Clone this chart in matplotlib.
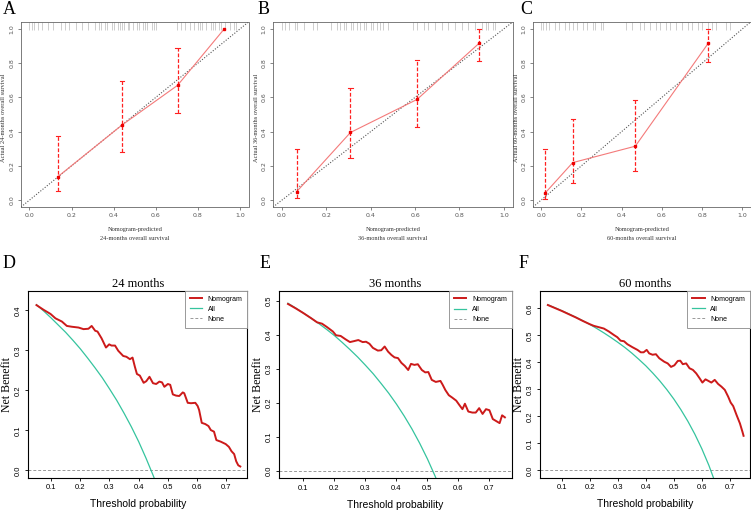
import numpy as np
import matplotlib
matplotlib.use("Agg")
import matplotlib.pyplot as plt
import matplotlib.transforms as mtransforms

# ---- calibration data (nomogram-predicted vs actual) ----
months = ["24", "36", "60"]
cal_pred = [[0.135, 0.440, 0.703, 0.925],
            [0.067, 0.309, 0.609, 0.888],
            [0.020, 0.157, 0.468, 0.831]]
cal_obs = [[0.137, 0.439, 0.670, 1.000],
           [0.050, 0.395, 0.588, 0.915],
           [0.041, 0.219, 0.315, 0.917]]
cal_lo = [[0.053, 0.279, 0.506, 1.000],
          [0.012, 0.244, 0.426, 0.811],
          [0.006, 0.100, 0.173, 0.809]]
cal_hi = [[0.377, 0.697, 0.887, 1.000],
          [0.298, 0.654, 0.820, 1.000],
          [0.297, 0.474, 0.583, 1.000]]
rug_a = [0.0, 0.01, 0.02, 0.04, 0.06, 0.09, 0.11, 0.15, 0.17, 0.19, 0.22, 0.25, 0.28, 0.31,
         0.33, 0.34, 0.36, 0.37, 0.39, 0.40, 0.42, 0.43, 0.44, 0.45, 0.47, 0.475, 0.49, 0.51,
         0.52, 0.54, 0.55, 0.56, 0.58, 0.59, 0.60, 0.70, 0.72, 0.74, 0.76, 0.78, 0.80, 0.81,
         0.82, 0.84, 0.86, 0.87, 0.88, 0.90, 0.91, 0.93, 0.95, 0.97, 0.98]
rug_b = [0.0, 0.015, 0.03, 0.06, 0.07, 0.10, 0.14, 0.16, 0.22, 0.25, 0.26, 0.28, 0.29, 0.31,
         0.32, 0.34, 0.35, 0.37, 0.38, 0.40, 0.41, 0.43, 0.44, 0.455, 0.48, 0.59, 0.61, 0.64,
         0.66, 0.69, 0.72, 0.75, 0.78, 0.81, 0.84, 0.87, 0.90, 0.92, 0.93, 0.95, 0.96]
rug_c = [0.0, 0.01, 0.025, 0.04, 0.07, 0.09, 0.12, 0.14, 0.16, 0.18, 0.21, 0.23, 0.26, 0.27,
         0.30, 0.31, 0.42, 0.45, 0.49, 0.51, 0.54, 0.57, 0.59, 0.62, 0.64, 0.67, 0.70, 0.73,
         0.75, 0.78, 0.80, 0.83, 0.85, 0.87, 0.92, 0.94]
rugs = [rug_a, rug_b, rug_c]

# ---- decision curve data ----
thr_all = [0.05, 0.075, 0.10, 0.125, 0.15, 0.175, 0.20, 0.225, 0.25, 0.275, 0.30, 0.325,
           0.35, 0.375, 0.40, 0.425, 0.45, 0.475, 0.50, 0.525, 0.55, 0.575, 0.60, 0.625, 0.65]
nb_all_24 = [0.414, 0.398, 0.381, 0.363, 0.345, 0.325, 0.304, 0.281, 0.257, 0.232, 0.204, 0.175,
             0.143, 0.109, 0.072, 0.031, -0.013, -0.061]
nb_all_36 = [0.493, 0.479, 0.464, 0.449, 0.433, 0.416, 0.398, 0.378, 0.357, 0.335, 0.311, 0.286,
             0.258, 0.229, 0.197, 0.162, 0.124, 0.082, 0.036, -0.015, -0.071]
nb_all_60 = [0.613, 0.602, 0.591, 0.579, 0.567, 0.554, 0.540, 0.525, 0.509, 0.492, 0.474, 0.455,
             0.434, 0.411, 0.387, 0.360, 0.331, 0.299, 0.264, 0.225, 0.182, 0.134, 0.080, 0.019, -0.051]

thr_24 = [0.05, 0.075, 0.098, 0.115, 0.137, 0.154, 0.171, 0.194, 0.211, 0.228, 0.239, 0.251,
          0.259, 0.273, 0.288, 0.299, 0.307, 0.319, 0.330, 0.347, 0.358, 0.370, 0.379, 0.387,
          0.394, 0.404, 0.417, 0.426, 0.437, 0.449, 0.460, 0.471, 0.480, 0.488, 0.500, 0.508,
          0.517, 0.528, 0.539, 0.551, 0.556, 0.568, 0.579, 0.594, 0.602, 0.607, 0.616, 0.628,
          0.639, 0.647, 0.658, 0.666, 0.681, 0.698, 0.709, 0.718, 0.727, 0.734, 0.741, 0.748]
nb_24 = [0.413, 0.401, 0.391, 0.380, 0.372, 0.361, 0.359, 0.357, 0.353, 0.354, 0.361, 0.349,
         0.347, 0.330, 0.307, 0.315, 0.312, 0.312, 0.299, 0.286, 0.284, 0.278, 0.282, 0.259,
         0.241, 0.237, 0.219, 0.223, 0.234, 0.218, 0.216, 0.222, 0.220, 0.209, 0.216, 0.214,
         0.190, 0.187, 0.186, 0.195, 0.193, 0.169, 0.168, 0.169, 0.161, 0.151, 0.119, 0.116,
         0.111, 0.101, 0.097, 0.076, 0.072, 0.066, 0.059, 0.048, 0.041, 0.023, 0.013, 0.010]

thr_36 = [0.05, 0.075, 0.10, 0.125, 0.144, 0.160, 0.176, 0.195, 0.205, 0.220, 0.236, 0.250,
          0.264, 0.277, 0.291, 0.302, 0.313, 0.324, 0.340, 0.351, 0.362, 0.373, 0.384, 0.394,
          0.405, 0.416, 0.427, 0.438, 0.447, 0.458, 0.469, 0.482, 0.493, 0.503, 0.514, 0.527,
          0.542, 0.549, 0.558, 0.569, 0.580, 0.593, 0.604, 0.613, 0.621, 0.632, 0.645, 0.656,
          0.667, 0.678, 0.689, 0.700, 0.711, 0.722, 0.733, 0.741, 0.750]
nb_36 = [0.491, 0.478, 0.464, 0.449, 0.437, 0.433, 0.423, 0.410, 0.399, 0.397, 0.387, 0.379,
         0.382, 0.385, 0.379, 0.380, 0.374, 0.362, 0.354, 0.355, 0.366, 0.351, 0.341, 0.334,
         0.332, 0.318, 0.309, 0.297, 0.315, 0.312, 0.314, 0.297, 0.290, 0.291, 0.268, 0.262,
         0.265, 0.254, 0.238, 0.223, 0.216, 0.207, 0.193, 0.182, 0.198, 0.175, 0.172, 0.172,
         0.185, 0.168, 0.182, 0.179, 0.153, 0.147, 0.141, 0.164, 0.158]

thr_60 = [0.05, 0.075, 0.10, 0.125, 0.15, 0.175, 0.20, 0.214, 0.232, 0.250, 0.268, 0.286,
          0.298, 0.310, 0.322, 0.334, 0.352, 0.370, 0.382, 0.392, 0.403, 0.412, 0.424, 0.436,
          0.448, 0.466, 0.478, 0.490, 0.502, 0.514, 0.523, 0.532, 0.544, 0.556, 0.568, 0.580,
          0.592, 0.602, 0.613, 0.622, 0.634, 0.646, 0.658, 0.670, 0.682, 0.694, 0.703, 0.712,
          0.724, 0.736, 0.745, 0.749]
nb_60 = [0.612, 0.601, 0.590, 0.578, 0.566, 0.553, 0.541, 0.535, 0.530, 0.525, 0.514, 0.501,
         0.493, 0.480, 0.478, 0.467, 0.456, 0.446, 0.437, 0.437, 0.446, 0.433, 0.428, 0.430,
         0.415, 0.402, 0.396, 0.383, 0.389, 0.405, 0.406, 0.393, 0.396, 0.378, 0.372, 0.359,
         0.341, 0.325, 0.337, 0.332, 0.325, 0.335, 0.320, 0.310, 0.298, 0.273, 0.251, 0.238,
         0.205, 0.174, 0.143, 0.128]

dca_thr = [thr_24, thr_36, thr_60]
dca_nb = [nb_24, nb_36, nb_60]
dca_all = [nb_all_24, nb_all_36, nb_all_60]
dca_ylim = [(-0.018, 0.449), (-0.021, 0.529), (-0.027, 0.665)]
dca_yticks = [np.arange(0, 0.41, 0.1), np.arange(0, 0.51, 0.1), np.arange(0, 0.61, 0.1)]

W, H = 751, 512
SERIF = "Liberation Serif"
SANS = "Liberation Sans"


def rect(l, r, t, b):
    return [l / W, 1 - b / H, (r - l) / W, (b - t) / H]


fig = plt.figure(figsize=(W / 100, H / 100), dpi=100)

top_rects = [(21, 248.5, 22, 207), (273, 512.7, 22, 207), (533, 750.5, 22, 207)]
bot_rects = [(28.3, 247.3, 290.7, 477.7), (279.3, 511.7, 291, 478.3), (540, 750, 290.7, 477.7)]
letters_top = ["A", "B", "C"]
letters_bot = ["D", "E", "F"]
letter_x_top = [3, 258, 520]
letter_x_bot = [3, 260, 519]

for i in range(3):
    l, r, t, b = top_rects[i]
    ax = fig.add_axes(rect(l, r, t, b))
    ax.set_xlim(-0.04, 1.04)
    ax.set_ylim(-0.04, 1.04)
    ax.plot([-0.04, 1.04], [-0.04, 1.04], color="#555555", linestyle=(0, (1, 1.5)), lw=0.8)
    trans = mtransforms.blended_transform_factory(ax.transData, ax.transAxes)
    ax.vlines(rugs[i], 0.957, 1.0, color="#bbbbbb", lw=0.5, transform=trans)
    ax.plot(cal_pred[i], cal_obs[i], color="#f47a7a", lw=0.8)
    for x, lo, hi in zip(cal_pred[i], cal_lo[i], cal_hi[i]):
        if hi - lo > 0.001:
            ax.plot([x, x], [lo, hi], color="#ff2020", lw=0.9, linestyle=(0, (3, 1.5)))
            ax.plot([x - 0.01, x + 0.01], [lo, lo], color="#ff2020", lw=0.8)
            ax.plot([x - 0.01, x + 0.01], [hi, hi], color="#ff2020", lw=0.8)
    ax.plot(cal_pred[i], cal_obs[i], "s", color="#ee0000", ms=2.0, lw=0)
    ax.set_xticks(np.arange(0, 1.01, 0.2))
    ax.set_yticks(np.arange(0, 1.01, 0.2))
    ax.set_xticklabels(["%.1f" % v for v in np.arange(0, 1.01, 0.2)])
    ax.set_yticklabels(["%.1f" % v for v in np.arange(0, 1.01, 0.2)], rotation=90, va="center")
    ax.tick_params(labelsize=4.5, colors="#555555", length=2, width=0.5, pad=2.5)
    for s in ax.spines.values():
        s.set_color("#666666")
        s.set_linewidth(0.6)
    cx = (l + r) / 2
    fig.text(cx / W, 1 - 229 / H, "Nomogram-predicted", ha="center", va="center",
             family=SERIF, fontsize=4.6, color="#333333")
    fig.text(cx / W, 1 - 239 / H, months[i] + "-months overall survival", ha="center", va="center",
             family=SERIF, fontsize=4.6, color="#333333")
    fig.text((l - 17) / W, 1 - ((t + b) / 2 + 3) / H, "Actual " + months[i] + "-months overall survival",
             rotation=90, ha="center", va="center", family=SERIF, fontsize=4.6, color="#333333")
    fig.text(letter_x_top[i] / W, 1 - 9 / H, letters_top[i], ha="left", va="center",
             family=SERIF, fontsize=13)

for i in range(3):
    l, r, t, b = bot_rects[i]
    ax = fig.add_axes(rect(l, r, t, b))
    ax.set_xlim(0.022, 0.772)
    ax.set_ylim(*dca_ylim[i])
    ax.axhline(0, color="#999999", lw=0.7, linestyle=(0, (3, 2)), label="None")
    n = len(dca_all[i])
    ax.plot(dca_thr[i], dca_nb[i], color="#cc1a1a", lw=1.4, label="Nomogram", zorder=3)
    ax.plot(thr_all[:n], dca_all[i], color="#35c49e", lw=0.9, label="All", zorder=2)
    ax.set_xticks(np.arange(0.1, 0.71, 0.1))
    ax.set_xticklabels(["%.1f" % v for v in np.arange(0.1, 0.71, 0.1)])
    ax.set_yticks(dca_yticks[i])
    ax.set_yticklabels(["%.1f" % v for v in dca_yticks[i]], rotation=90, va="center")
    ax.tick_params(labelsize=5.5, length=2.5, width=0.6, pad=2)
    for lab in ax.get_xticklabels() + ax.get_yticklabels():
        lab.set_family(SANS)
    for s in ax.spines.values():
        s.set_linewidth(0.8)
    ax.set_title(months[i] + " months", family=SERIF, fontsize=9, pad=3)
    ax.set_xlabel("Threshold probability", family=SANS, fontsize=7.5, labelpad=6)
    ax.set_ylabel("Net Benefit", family=SERIF, fontsize=8.5, labelpad=1.5)
    hs, ls = ax.get_legend_handles_labels()
    order = [1, 2, 0]
    leg = ax.legend([hs[k] for k in order], [ls[k] for k in order], loc="upper right",
                    borderaxespad=0, fancybox=False, edgecolor="#999999", framealpha=1,
                    prop={"family": SANS, "size": 5}, handlelength=1.8, labelspacing=0.45,
                    borderpad=0.7, handletextpad=0.8)
    leg.get_frame().set_linewidth(0.7)
    fig.text(letter_x_bot[i] / W, 1 - 264 / H, letters_bot[i], ha="left", va="center",
             family=SERIF, fontsize=13)

fig.savefig("out.png", dpi=100)
